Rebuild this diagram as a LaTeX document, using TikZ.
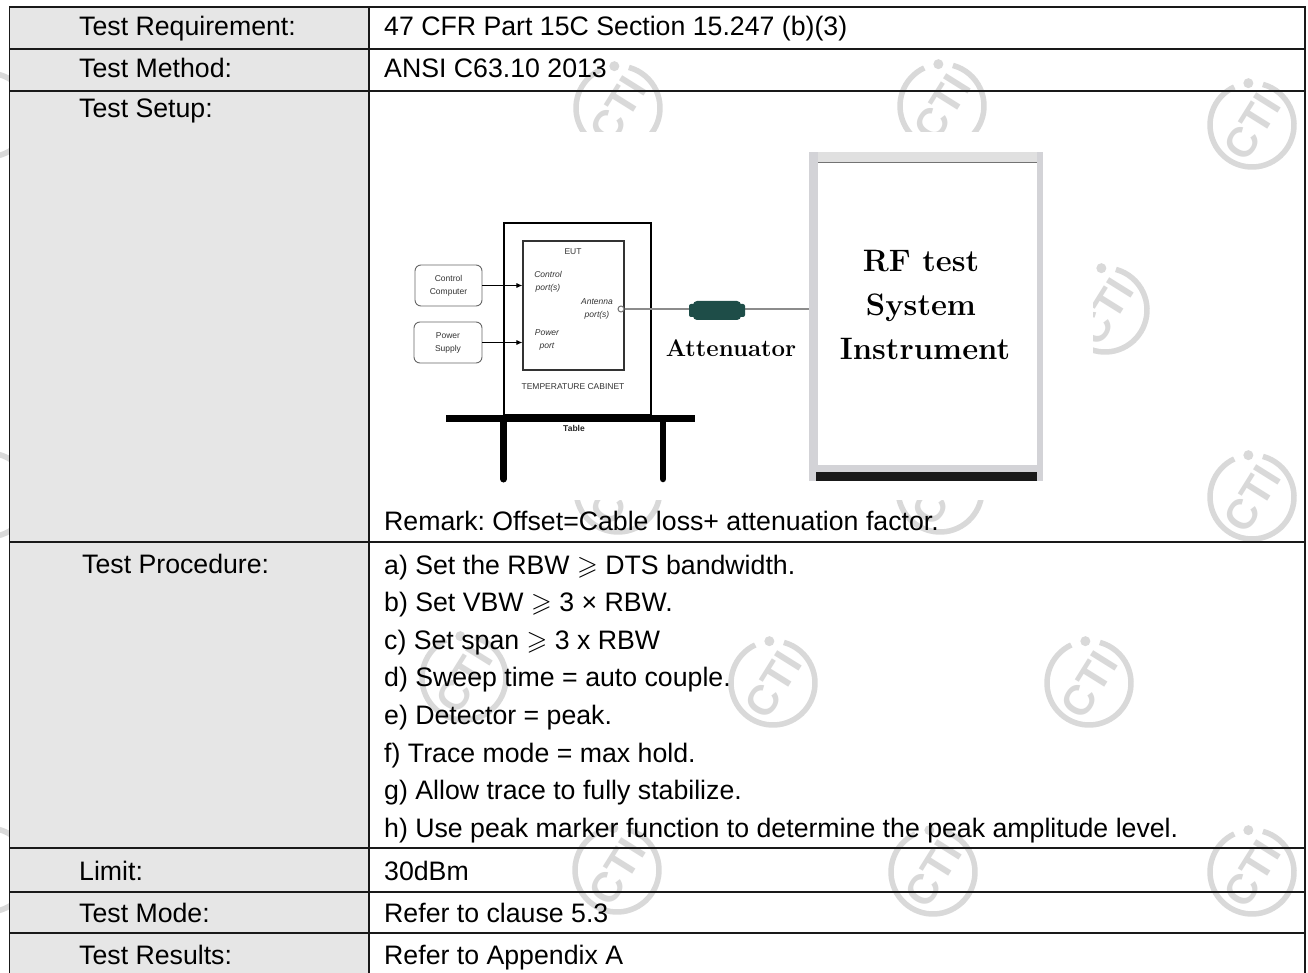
\documentclass[tikz,border=0pt]{standalone}
\usepackage{fontspec}
\usepackage{amssymb}
\newfontfamily\arialf{Liberation Sans}
\usetikzlibrary{arrows.meta}
\frenchspacing
\definecolor{cellgray}{HTML}{E6E6E6}
\definecolor{wmgray}{HTML}{D9D9D9}
\definecolor{attcol}{HTML}{1E4D48}
\definecolor{framegray}{HTML}{D3D3D7}
\definecolor{labelgray}{HTML}{333333}
\tikzset{
  cell/.style={anchor=base west, inner sep=0pt, text=black, font=\arialf\fontsize{26.7}{32}\selectfont},
  tline/.style={line width=1.5pt, draw=black!90},
  small/.style={inner sep=0pt, align=center, text=labelgray, font=\arialf\fontsize{8.5}{13}\selectfont},
  smallit/.style={small, font=\arialf\itshape\fontsize{8.5}{13}\selectfont},
  srcbox/.style={draw=black!60, line width=0.9pt, rounded corners=6pt, inner sep=0pt},
  feed/.style={line width=0.9pt, -{Latex[length=6pt,width=5pt]}},
  cable/.style={line width=2.5pt, draw=black!45},
  big/.style={inner sep=0pt, anchor=base, font=\bfseries\fontsize{31}{36}\selectfont},
  ctiring/.pic={
    \draw[wmgray, line width=5.5pt] (-115:42) arc[start angle=-115, end angle=-435, radius=42];
    \fill[wmgray] (-95:42) circle (5);
  },
  ctiwm/.pic={
    \draw[wmgray, line width=5.5pt] (-115:42) arc[start angle=-115, end angle=-435, radius=42];
    \fill[wmgray] (-95:42) circle (5);
    \node[rotate=58, inner sep=0pt, text=wmgray, font=\arialf\bfseries\fontsize{42}{42}\selectfont] (-t) at (0,2) {CTI};
  }
}
\begin{document}
\begin{tikzpicture}[x=1pt,y=-1pt]
\useasboundingbox (0,0) rectangle (1308,973);
\fill[white] (0,0) rectangle (1308,973);
% watermarks
\foreach \a/\b [count=\i] in {618/108, 942/106, 1252/125, 1105/310, 618/490, 940/490, 1252/497, 464/678, 773/683, 1089/683, 617/870, 933/872, 1252/872}
  \pic (wm\i) at (\a,\b) {ctiwm};
\foreach \b [count=\i] in {115, 495, 870}
  \pic (wr\i) at (-12,\b) {ctiring};
% left column shading and picture background
\fill[cellgray] (9.5,7) rectangle (369,980);
\fill[white] (371,132) rectangle (1093,500);
% table rules
\draw[tline] (9.5,980) -- (9.5,7) -- (1305,7) -- (1305,980);
\draw[tline] (369,7) -- (369,980);
\foreach \yy in {49,91,542,848,892,933}
  \draw[tline] (9.5,\yy) -- (1305,\yy);
% left column
\node[cell] (l1) at (79,36) {Test Requirement:};
\node[cell] (l2) at (79,78) {Test Method:};
\node[cell] (l3) at (79,118) {Test Setup:};
\node[cell] (l4) at (82,573) {Test Procedure:};
\node[cell] (l5) at (79,880) {Limit:};
\node[cell] (l6) at (79,922) {Test Mode:};
\node[cell] (l7) at (79,964) {Test Results:};
% right column
\node[cell] (r1) at (384,36) {47 CFR Part 15C Section 15.247 (b)(3)};
\node[cell] (r2) at (384,78) {ANSI C63.10 2013};
\node[cell] (rem) at (384,530) {Remark: Offset=Cable loss+ attenuation factor.};
\node[cell] (pa) at (384,574) {a) Set the RBW $\geqslant$ DTS bandwidth.};
\node[cell] (pb) at (384,611.6) {b) Set VBW $\geqslant$ 3 × RBW.};
\node[cell] (pc) at (384,649.2) {c) Set span $\geqslant$ 3 x RBW};
\node[cell] (pd) at (384,686.8) {d) Sweep time = auto couple.};
\node[cell] (pe) at (384,724.4) {e) Detector = peak.};
\node[cell] (pf) at (384,762) {f) Trace mode = max hold.};
\node[cell] (pg) at (384,799.6) {g) Allow trace to fully stabilize.};
\node[cell] (ph) at (384,837.2) {h) Use peak marker function to determine the peak amplitude level.};
\node[cell] (r5) at (384,880) {30dBm};
\node[cell] (r6) at (384,922) {Refer to clause 5.3};
\node[cell] (r7) at (384,964) {Refer to Appendix A};
% ---- test setup drawing ----
% table
\fill[black] (446,415) rectangle (695,422);
\draw[line width=7pt, line cap=round] (503.5,420) -- (503.5,479);
\draw[line width=6.5pt, line cap=round] (663,420) -- (663,479);
\node[small, font=\arialf\bfseries\fontsize{8.5}{10}\selectfont, text=black!85] (tbl) at (574,428) {Table};
% cabinet and EUT
\node[draw=black, line width=2.5pt, minimum width=147pt, minimum height=192pt, inner sep=0pt] (cab) at (577.5,319) {};
\node[draw=black!80, line width=1.1pt, minimum width=101pt, minimum height=129pt, inner sep=0pt] (eut) at (573.5,305.5) {};
\node[small] (eutl) at (573,252) {EUT};
\node[small] (tcab) at (573,387) {TEMPERATURE CABINET};
\node[smallit] (cport) at (548,281.5) {Control\\port(s)};
\node[smallit] (aport) at (597,308.5) {Antenna\\port(s)};
\node[smallit] (pport) at (547,339.5) {Power\\port};
% sources
\node[srcbox, minimum width=67pt, minimum height=41pt] (cc) at (448.5,285.5) {};
\node[small] (cct) at (cc.center) {Control\\Computer};
\node[srcbox, minimum width=68pt, minimum height=41pt] (ps) at (448,342.5) {};
\node[small] (pst) at (ps.center) {Power\\Supply};
\draw[feed] (cc.east) -- (cc.east -| eut.west);
\draw[feed] (ps.east) -- (ps.east -| eut.west);
% RF test system
\node[fill=framegray, minimum width=234pt, minimum height=329pt, inner sep=0pt] (rf) at (926,316.5) {};
\fill[white] (818,163) rectangle (1037,465);
\fill[black!12] (818,152) rectangle (1037,163);
\draw[black!55, line width=1pt] (818,163) -- (1037,163);
\fill[black!90] (816,472) rectangle (1037,481);
\node[big] (rf1) at (921,272) {RF test};
\node[big] (rf2) at (921,316) {System};
\node[big] (rf3) at (925,359) {Instrument};
% cable and attenuator
\node[circle, draw=black!55, fill=white, line width=1pt, minimum size=6pt, inner sep=0pt] (ant) at (621,309) {};
\draw[cable] (ant.east) -- (rf.west |- ant);
\fill[attcol, rounded corners=2pt] (689,304) rectangle (696,317);
\fill[attcol, rounded corners=2pt] (738,304) rectangle (745,317);
\node[fill=attcol, rounded corners=4pt, minimum width=48pt, minimum height=19pt, inner sep=0pt] (att) at (717,310.5) {};
\node[big, font=\bfseries\fontsize{24}{28}\selectfont] (attl) at (731,356) {Attenuator};
\end{tikzpicture}
\end{document}
